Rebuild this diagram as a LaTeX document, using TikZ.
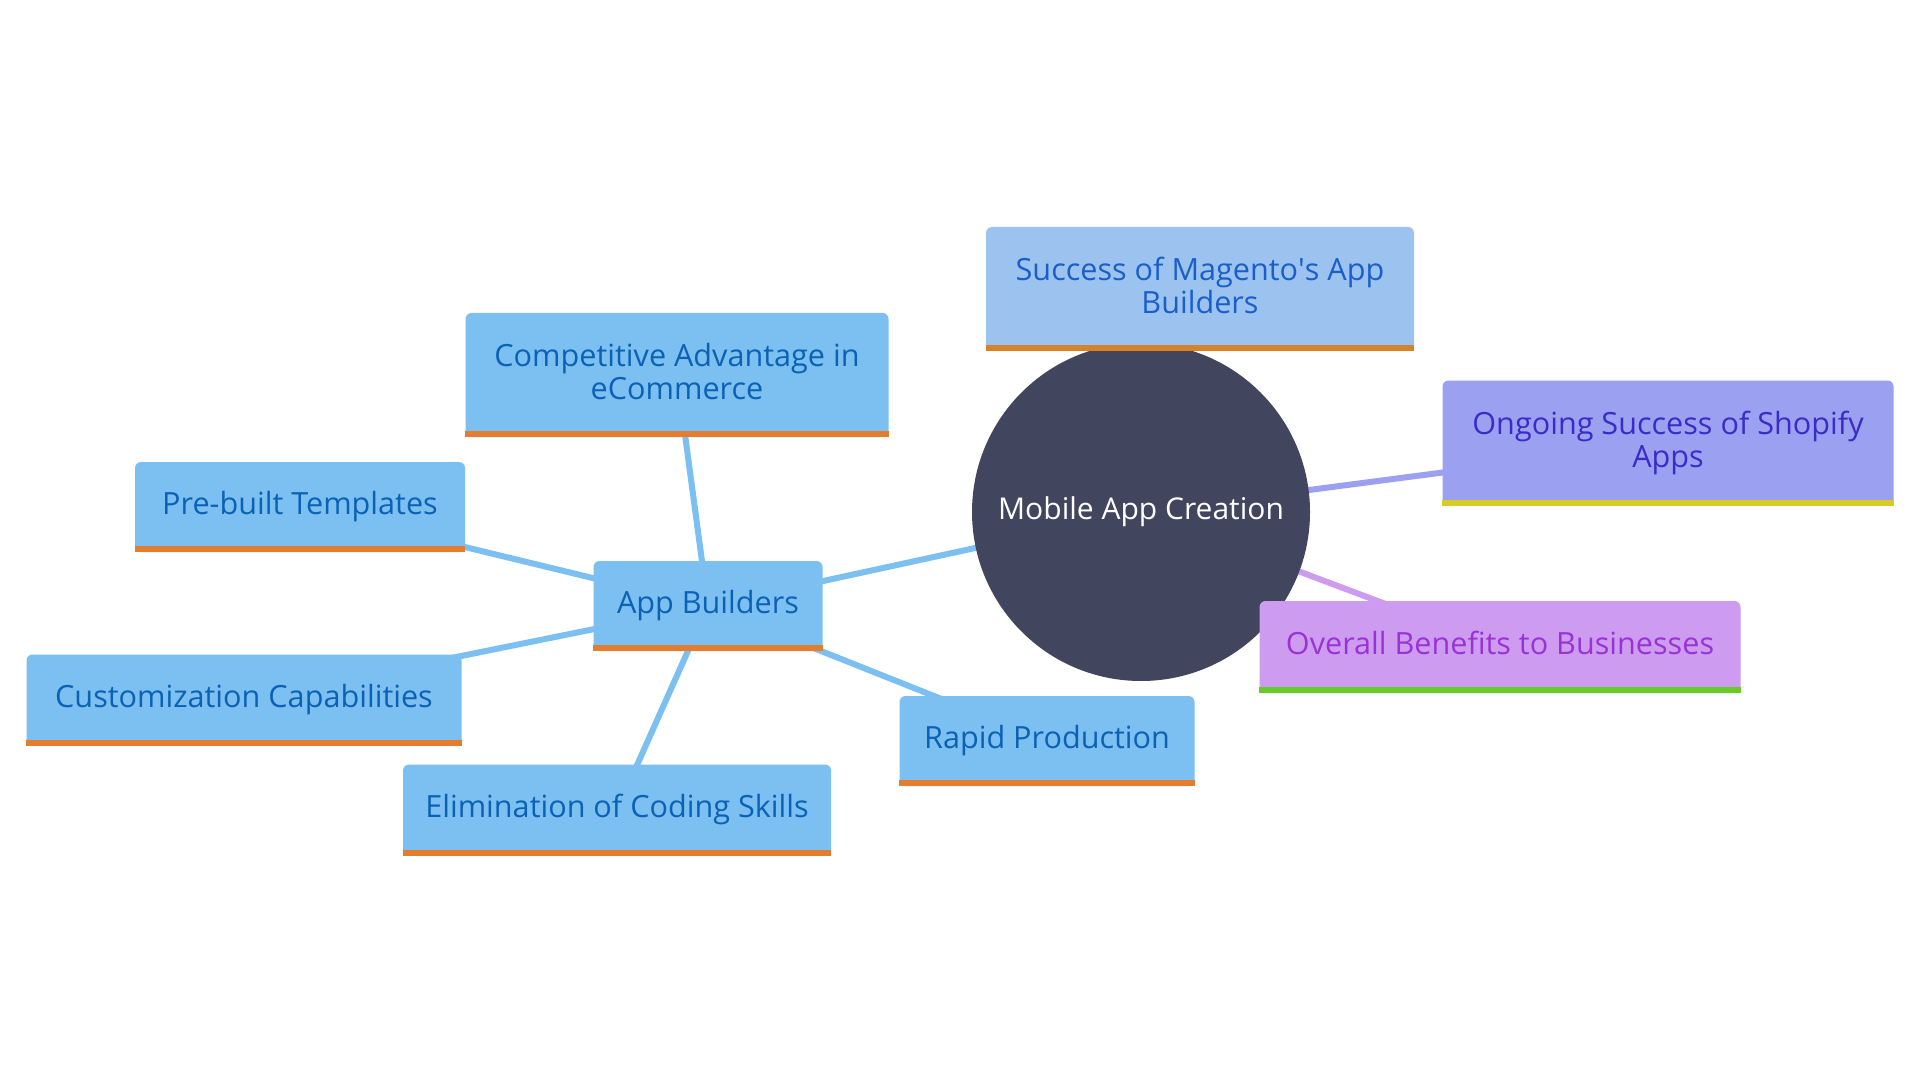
\documentclass[tikz,border=0pt]{standalone}
\usepackage{fontspec}
\setmainfont{Open Sans}
\usetikzlibrary{positioning,calc,backgrounds}

\definecolor{hubfill}{HTML}{41455E}
\definecolor{leafblue}{HTML}{7CBFF1}
\definecolor{leaftext}{HTML}{0B62B5}
\definecolor{barorange}{HTML}{E57D2F}
\definecolor{magfill}{HTML}{9CC3EF}
\definecolor{magtext}{HTML}{1A5FC9}
\definecolor{magbar}{HTML}{D6822A}
\definecolor{shopfill}{HTML}{9CA0F1}
\definecolor{shoptext}{HTML}{3A2CC8}
\definecolor{shopbar}{HTML}{D7CB25}
\definecolor{benfill}{HTML}{CD9CF1}
\definecolor{bentext}{HTML}{9A32D6}
\definecolor{benbar}{HTML}{67CC23}

\tikzset{
    leaf/.style={rounded corners=3pt, inner sep=0pt, align=center, text depth=4pt,
        font=\fontsize{15.3}{16.5}\selectfont},
    bluebox/.style={leaf, fill=leafblue, text=leaftext},
    link/.style={line width=3pt},
}

\begin{document}
\begin{tikzpicture}[x=0.5pt, y=-0.5pt]
    \useasboundingbox (0,0) rectangle (1920,1080);

    % Centre
    \node[circle, fill=hubfill, text=white, minimum size=169pt, inner sep=0pt,
        font=\fontsize{15}{17}\selectfont] (hub) at (1141,512) {Mobile App Creation};

    % Right side
    \node[leaf, fill=magfill, text=magtext, minimum width=214pt, minimum height=62pt]
        (magento) at (1200,289) {Success of Magento\textquotesingle s App\\Builders};
    \node[leaf, fill=shopfill, text=shoptext, minimum width=225.5pt, minimum height=62.5pt]
        (shopify) at (1668,443) {Ongoing Success of Shopify\\Apps};
    \node[leaf, fill=benfill, text=bentext, minimum width=240.5pt, minimum height=46pt]
        (benefits) at (1500,647) {Overall Benefits to Businesses};

    % App builders and its children
    \node[bluebox, minimum width=114.5pt, minimum height=45pt] (builders) at (708,606) {App Builders};
    \node[bluebox, minimum width=211.5pt, minimum height=62pt] (advantage) at (677,375) {Competitive Advantage in\\eCommerce};
    \node[bluebox, minimum width=165pt, minimum height=45pt] (templates) at (300,507) {Pre-built Templates};
    \node[bluebox, minimum width=217.5pt, minimum height=45.5pt] (custom) at (244,700) {Customization Capabilities};
    \node[bluebox, minimum width=214pt, minimum height=45.5pt] (coding) at (617,810) {Elimination of Coding Skills};
    \node[bluebox, minimum width=147.5pt, minimum height=45pt] (rapid) at (1047,741) {Rapid Production};

    % Bottom bars
    \foreach \n/\c in {magento/magbar, shopify/shopbar, benefits/benbar, builders/barorange,
        advantage/barorange, templates/barorange, custom/barorange, coding/barorange, rapid/barorange} {
        \fill[\c] (\n.south west) rectangle ([yshift=3pt]\n.south east);
    }

    % Connectors
    \begin{scope}[on background layer]
        \fill[white] (0,0) rectangle (1920,1080);
        \draw[link, leafblue] (hub.center) -- (builders.center);
        \draw[link, magfill] (hub.center) -- (magento.center);
        \draw[link, shopfill] (hub.center) -- (shopify.center);
        \draw[link, benfill] (hub.center) -- (benefits.center);
        \foreach \n in {advantage, templates, custom, coding, rapid} {
            \draw[link, leafblue] (builders.center) -- (\n.center);
        }
    \end{scope}
\end{tikzpicture}
\end{document}
